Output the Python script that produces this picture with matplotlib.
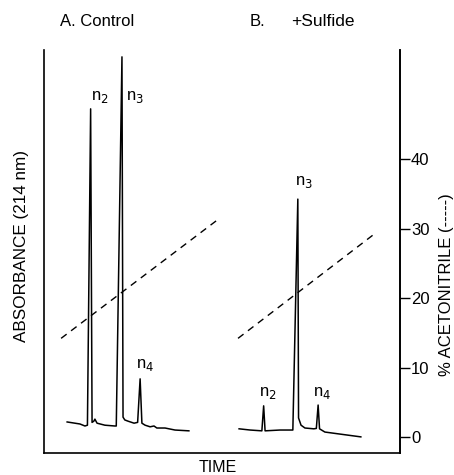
import matplotlib
matplotlib.use("Agg")
import matplotlib.pyplot as plt
import numpy as np

plt.rcParams['font.family'] = ['Liberation Sans', 'DejaVu Sans']

# trace A (control), time in arbitrary units, absorbance in arbitrary units
time_a = [6.5, 10.1, 11.5, 12.2, 13.1, 13.5, 14.0, 14.3, 14.9, 17.1, 19.9,
          20.3, 21.9, 22.2, 22.7, 23.6, 25.3, 26.3, 27.0, 27.5, 28.4, 29.8,
          30.9, 31.7, 34.0, 36.8, 40.7]
abs_a = [7.7, 7.2, 6.7, 6.9, 85.4, 7.6, 7.9, 8.4, 7.4, 6.9, 6.7,
         6.7, 98.3, 8.9, 8.2, 7.9, 7.4, 7.6, 18.4, 7.4, 6.9, 6.5,
         6.7, 6.2, 6.2, 5.7, 5.5]

# trace B (+ sulfide)
time_b = [54.8, 57.9, 61.2, 61.7, 62.1, 66.3, 69.7, 69.9, 71.3, 71.5, 72.2,
          73.3, 75.8, 76.5, 77.0, 77.4, 78.9, 83.1, 89.0]
abs_b = [6.0, 5.7, 5.5, 11.7, 5.5, 5.7, 5.7, 5.7, 63.0, 8.7, 6.9,
         6.2, 6.0, 6.1, 11.9, 6.0, 5.2, 4.7, 4.0]

# acetonitrile gradient (dashed), % acetonitrile
grad_a_t = [4.8, 48.6]
grad_a_pct = [14.2, 31.2]
grad_b_t = [54.5, 93.0]
grad_b_pct = [14.2, 29.3]

pct_ticks = [0, 10, 20, 30, 40]

# peak labels: (text, time, absorbance)
peak_labels = [("n$_2$", 15.7, 86.3), ("n$_3$", 25.6, 86.3), ("n$_4$", 28.4, 19.8),
               ("n$_2$", 62.9, 12.8), ("n$_3$", 73.0, 65.2), ("n$_4$", 78.1, 12.8)]

fig = plt.figure(figsize=(4.54, 4.75), dpi=100)
ax = fig.add_axes([44 / 454, 22 / 475, 356 / 454, 403 / 475])
ax.plot(time_a, abs_a, color='black', lw=1.1)
ax.plot(time_b, abs_b, color='black', lw=1.1)
ax.set_xlim(0, 100)
ax.set_ylim(0, 100)
ax.set_xticks([])
ax.set_yticks([])
ax.spines['top'].set_visible(False)
for s in ['left', 'bottom', 'right']:
    ax.spines[s].set_linewidth(1.2)

for txt, t, a in peak_labels:
    ax.text(t, a, txt, fontsize=12, ha='center', va='bottom')

ax2 = ax.twinx()
ax2.plot(grad_a_t, grad_a_pct, color='black', lw=1.0, ls=(0, (5, 4)))
ax2.plot(grad_b_t, grad_b_pct, color='black', lw=1.0, ls=(0, (5, 4)))
ax2.set_ylim(-2.3, 55.7)
ax2.set_yticks(pct_ticks)
ax2.tick_params(axis='y', direction='out', length=7, width=1.0, labelsize=12, pad=1)
for s in ['top', 'left', 'bottom']:
    ax2.spines[s].set_visible(False)
ax2.spines['right'].set_linewidth(1.2)

fig.text(22 / 454, 1 - 246 / 475, "ABSORBANCE (214 nm)", rotation=90,
         ha='center', va='center', fontsize=12.3)
fig.text(446 / 454, 1 - 285 / 475, "% ACETONITRILE (-----)", rotation=90,
         ha='center', va='center', fontsize=12)
fig.text(218 / 454, 1 - 468 / 475, "TIME", ha='center', va='center', fontsize=11.5)
fig.text(60 / 454, 1 - 22 / 475, "A. Control", ha='left', va='center', fontsize=12)
fig.text(250 / 454, 1 - 22 / 475, "B.", ha='left', va='center', fontsize=12)
fig.text(291 / 454, 1 - 22 / 475, "+Sulfide", ha='left', va='center', fontsize=12.5)

fig.savefig("out.png", dpi=100)
